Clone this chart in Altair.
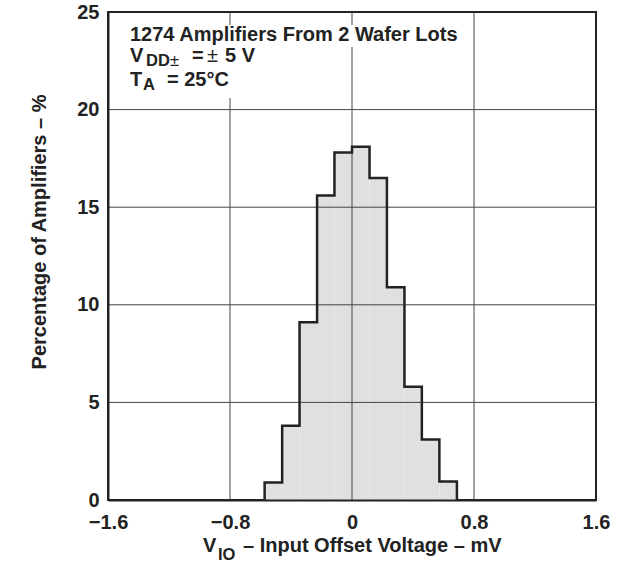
import altair as alt
import pandas as pd

# Histogram of input offset voltage (mV) -> percentage of amplifiers per bin
bin_edges = [-0.573, -0.458, -0.344, -0.229, -0.115, 0.0, 0.115, 0.229, 0.344, 0.458, 0.573, 0.688]
pct = [0.9, 3.8, 9.1, 15.6, 17.8, 18.1, 16.5, 10.9, 5.8, 3.1, 0.95]

x_ticks = [-1.6, -0.8, 0, 0.8, 1.6]
y_ticks = [0, 5, 10, 15, 20, 25]
x_grid = [-0.8, 0, 0.8]
y_grid = [5, 10, 15, 20]

FONT = "Liberation Sans"
INK = "#222222"
W, H = 488, 488

# step profile of the histogram (one point per bin edge)
ox = [bin_edges[0]] + bin_edges[:-1] + [bin_edges[-1]]
oy = [0] + pct + [0]
profile = pd.DataFrame({"x": ox, "y": oy, "i": list(range(len(ox)))})

x_scale = alt.Scale(domain=[-1.6, 1.6], nice=False, zero=False)
y_scale = alt.Scale(domain=[0, 25], nice=False)

x_axis = alt.Axis(
    values=x_ticks, title=None, grid=False, ticks=False,
    domain=True, domainColor=INK, domainWidth=2,
    labelFont=FONT, labelFontSize=20, labelFontWeight="bold", labelColor=INK,
    labelPadding=12, labelFlush=False, zindex=1,
    labelExpr="datum.value < 0 ? '\u2212' + format(-datum.value, '.1f') : (datum.value == 0 ? '0' : format(datum.value, '.1f'))",
)
y_axis = alt.Axis(
    values=y_ticks, title=None, grid=False, ticks=False,
    domain=True, domainColor=INK, domainWidth=2,
    labelFont=FONT, labelFontSize=20, labelFontWeight="bold", labelColor=INK,
    labelPadding=9, labelFlush=False, zindex=1,
)

fill = alt.Chart(profile).mark_area(interpolate="step-after", color="#dfe0e2").encode(
    x=alt.X("x:Q", scale=x_scale, axis=x_axis),
    y=alt.Y("y:Q", scale=y_scale, axis=y_axis),
    order="i:O",
)

vgrid = alt.Chart(pd.DataFrame({"g": x_grid})).mark_rule(color="#444444", strokeWidth=1).encode(
    x=alt.X("g:Q", scale=x_scale, axis=x_axis)
)
hgrid = alt.Chart(pd.DataFrame({"g": y_grid})).mark_rule(color="#444444", strokeWidth=1).encode(
    y=alt.Y("g:Q", scale=y_scale, axis=y_axis)
)

edge = alt.Chart(profile).mark_line(
    interpolate="step-after", color=INK, strokeWidth=2.5, strokeJoin="miter"
).encode(
    x=alt.X("x:Q", scale=x_scale, axis=x_axis),
    y=alt.Y("y:Q", scale=y_scale, axis=y_axis),
    order="i:O",
)


def blank(x1, x2, y1, y2):
    # white backing behind the annotation text
    return alt.Chart(alt.Data(values=[{}])).mark_rect(color="white").encode(
        x=alt.value(x1), x2=alt.value(x2), y=alt.value(y1), y2=alt.value(y2)
    )


def label(text, x, y, size=20, weight="bold", angle=0, align="left", baseline="alphabetic"):
    return alt.Chart(alt.Data(values=[{}])).mark_text(
        text=text, font=FONT, fontSize=size, fontWeight=weight, color=INK,
        align=align, baseline=baseline, angle=angle,
    ).encode(x=alt.value(x), y=alt.value(y))


notes = [
    label("1274 Amplifiers From 2 Wafer Lots", 22, 29),
    label("V", 22, 50),
    label("DD", 38, 54, size=16.5),
    label("\u00b1", 62, 54, size=16.5, weight="normal"),
    label("=", 84, 50),
    label("\u00b1", 99, 50, weight="normal"),
    label("5 V", 117, 50),
    label("T", 22, 74),
    label("A", 35, 78, size=16.5),
    label("= 25\u00b0C", 59, 74),
]

titles = [
    label("Percentage of Amplifiers \u2013 %", -68, 220, angle=270, align="center", baseline="middle"),
    label("V", 95, 540),
    label("IO", 110, 548, size=16.5),
    label("\u2013 Input Offset Voltage \u2013 mV", 135, 540),
]

chart = alt.layer(
    fill, vgrid, hgrid,
    blank(20, 362, 13, 35), blank(20, 150, 35, 60), blank(20, 126, 60, 86),
    edge, *notes, *titles,
).properties(
    width=W, height=H,
    padding={"left": 108, "top": 12, "right": 31, "bottom": 62},
    autosize=alt.AutoSizeParams(type="none"),
).configure_view(stroke=INK, strokeWidth=2)

chart.save("out.html", embed_options={"renderer": "svg", "actions": False})
